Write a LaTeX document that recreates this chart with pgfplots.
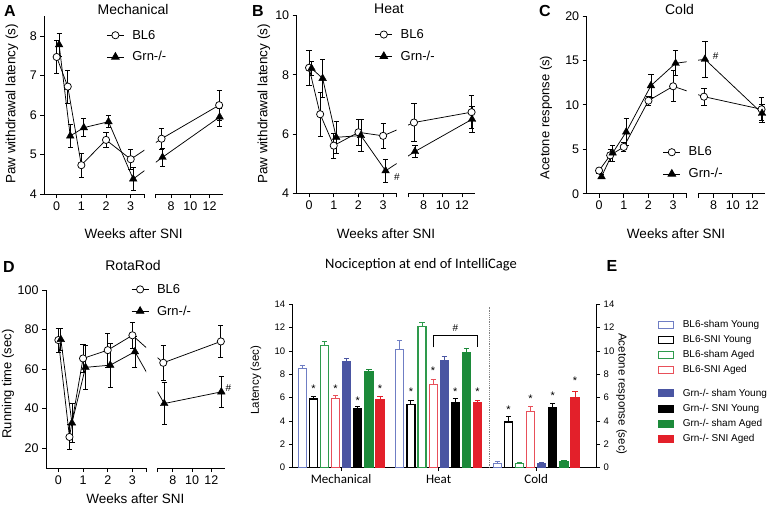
\documentclass[border=0pt]{standalone}
\usepackage{pgfplots}
\pgfplotsset{compat=1.18}
\usepackage{fontspec}
\setmainfont{Liberation Sans}
\newfontfamily\calibri{Carlito}
\definecolor{eblueL}{HTML}{6F7EC4}
\definecolor{eblue}{HTML}{4A55A2}
\definecolor{egreen}{HTML}{1C8A3A}
\definecolor{egreenL}{HTML}{2E9A4C}
\definecolor{ered}{HTML}{E3202A}
\definecolor{eredL}{HTML}{E8505A}
\newcommand{\fs}[1]{\fontsize{#1}{#1}\selectfont}
\pgfplotsset{
  gp/.style={scale only axis, at={(0pt,0pt)}, anchor=south west, axis line style={-,line width=0.8pt},
     tick align=outside, major tick length=4pt,
     every tick/.style={black,line width=0.8pt},
     tick label style={font=\fs{12.5}}, /pgf/number format/assume math mode=true,
     height=177.7pt},
  gpl/.style={gp, axis x line*=bottom, axis y line*=left, width=100pt,
     xmin=-0.5, xmax=3.55, xtick={0,1,2,3,3.55}, xticklabels={0,1,2,3,{}}},
  gpr/.style={gp, axis x line*=bottom, axis y line=none, width=67.2pt,
     xmin=6.4, xmax=13.4, xtick={6.4,8,10,12}, xticklabels={{},8,10,12}},
  ln/.style={black, line width=0.75pt, mark=none, forget plot},
  bm/.style={only marks, mark=*, mark size=3.6pt, mark options={fill=white, draw=black, line width=0.75pt}, forget plot,
     error bars/.cd, y dir=both, y explicit, error bar style={black,line width=0.75pt},
     error mark options={rotate=90, mark size=2.6pt, line width=0.75pt, black}},
  gm/.style={only marks, mark=triangle*, mark size=4.4pt, mark options={fill=black, draw=black}, forget plot,
     error bars/.cd, y dir=both, y explicit, error bar style={black,line width=0.75pt},
     error mark options={rotate=90, mark size=2.6pt, line width=0.75pt, black}},
  bleg/.style={black, line width=0.75pt, mark=*, mark size=3.6pt, mark options={fill=white, draw=black}},
  gleg/.style={black, line width=0.75pt, mark=triangle*, mark size=4.4pt, mark options={fill=black}},
  lgd/.style={legend style={draw=none, fill=none, anchor=north west, at={#1}, font=\fs{13},
     row sep=9pt, inner sep=0pt, nodes={inner sep=1pt},
     /tikz/every odd column/.append style={column sep=7pt}}, legend cell align=left},
  eb/.style 2 args={ybar, bar width=8, bar shift=0pt, draw=#1, fill=#2, line width=1.2pt,
     legend image code/.code={\draw[##1, line width=1pt] (0pt,-3.5pt) rectangle (15pt,3.5pt);},
     error bars/.cd, y dir=plus, y explicit, error bar style={#1, line width=1pt},
     error mark options={rotate=90, mark size=2.6pt, line width=1pt, #1}},
  ee/.style={scale only axis, at={(0pt,0pt)}, anchor=south west, width=304.4pt, height=163.4pt,
     ymin=0, ymax=14, axis line style={-, line width=0.8pt},
     tick align=outside, major tick length=3.5pt, every tick/.style={black, line width=0.8pt},
     ytick={0,2,...,14}, y tick label style={font=\fs{9.5}}, /pgf/number format/assume math mode=true},
}
\begin{document}
\begin{tikzpicture}[x=1pt,y=1pt]
\useasboundingbox (0,0) rectangle (767,507);
% ---------------- Panel A ----------------
\begin{scope}[shift={(44.3pt,313pt)}]
\begin{axis}[gpl, ymin=4, ymax=8.5, ytick={4,5,6,7,8}, lgd={(axis description cs:0.62,0.93)}]
\addplot[ln] coordinates {(0,7.47)(0.45,6.72)(1,4.73)(2,5.37)(3,4.88)(4.249,5.4)};
\addplot[ln] coordinates {(0.1,7.78)(0.55,5.47)(1.1,5.68)(2.1,5.83)(3.1,4.38)(4.288,4.93)};
\addplot[bm] coordinates {(0,7.47)+-(0,0.42) (0.45,6.72)+-(0,0.42) (1,4.73)+-(0,0.3) (2,5.37)+-(0,0.2) (3,4.88)+-(0,0.25)};
\addplot[gm] coordinates {(0.1,7.78)+-(0,0.3) (0.55,5.47)+-(0,0.3) (1.1,5.68)+-(0,0.23) (2.1,5.83)+-(0,0.15) (3.1,4.38)+-(0,0.3)};
\addlegendimage{bleg}\addlegendentry{BL6}
\addlegendimage{gleg}\addlegendentry{Grn-/-}
\end{axis}
\end{scope}
\begin{scope}[shift={(155.8pt,313pt)}]
\begin{axis}[gpr, ymin=4, ymax=8.5]
\addplot[ln] coordinates {(3.787,4.88)(7,5.4)(13,6.25)};
\addplot[ln] coordinates {(4.044,4.38)(7.1,4.93)(13.05,5.95)};
\addplot[bm] coordinates {(7,5.4)+-(0,0.26) (13,6.25)+-(0,0.38)};
\addplot[gm] coordinates {(7.1,4.93)+-(0,0.22) (13.05,5.95)+-(0,0.23)};
\end{axis}
\end{scope}
% ---------------- Panel B ----------------
\begin{scope}[shift={(296.7pt,313.7pt)}]
\begin{axis}[gpl, ymin=4, ymax=10, ytick={4,6,8,10}, lgd={(axis description cs:0.78,0.93)}]
\addplot[ln] coordinates {(0,8.24)(0.45,6.67)(1,5.61)(2,6.06)(3,5.94)(4.249,6.39)};
\addplot[ln] coordinates {(0.1,8.22)(0.55,7.88)(1.1,5.89)(2.1,5.95)(3.1,4.76)(4.288,5.41)};
\addplot[bm] coordinates {(0,8.24)+-(0,0.6) (0.45,6.67)+-(0,0.75) (1,5.61)+-(0,0.43) (2,6.06)+-(0,0.45) (3,5.94)+-(0,0.42)};
\addplot[gm] coordinates {(0.1,8.22)+-(0,0.25) (0.55,7.88)+-(0,0.65) (1.1,5.89)+-(0,0.55) (2.1,5.95)+-(0,0.55) (3.1,4.76)+-(0,0.38)};
\addlegendimage{bleg}\addlegendentry{BL6}
\addlegendimage{gleg}\addlegendentry{Grn-/-}
\end{axis}
\end{scope}
\begin{scope}[shift={(408.2pt,313.7pt)}]
\begin{axis}[gpr, ymin=4, ymax=10]
\addplot[ln] coordinates {(3.787,5.94)(7,6.39)(13,6.74)};
\addplot[ln] coordinates {(4.044,4.76)(7.1,5.41)(13.05,6.5)};
\addplot[bm] coordinates {(7,6.39)+-(0,0.63) (13,6.74)+-(0,0.55)};
\addplot[gm] coordinates {(7.1,5.41)+-(0,0.2) (13.05,6.5)+-(0,0.45)};
\end{axis}
\end{scope}
% ---------------- Panel C ----------------
\begin{scope}[shift={(586.7pt,313.3pt)}]
\begin{axis}[gpl, ymin=0, ymax=20, ytick={0,5,10,15,20}, lgd={(axis description cs:0.76,0.27)}]
\addplot[ln] coordinates {(0,2.6)(0.45,4.32)(1,5.26)(2,10.47)(3,12.09)(4.249,10.92)};
\addplot[ln] coordinates {(0.1,1.92)(0.55,4.58)(1.1,6.95)(2.1,12.16)(3.1,14.68)(4.288,15.13)};
\addplot[bm] coordinates {(0,2.6)+-(0,0.3) (0.45,4.32)+-(0,0.7) (1,5.26)+-(0,0.55) (2,10.47)+-(0,0.5) (3,12.09)+-(0,1.75)};
\addplot[gm] coordinates {(0.1,1.92)+-(0,0.25) (0.55,4.58)+-(0,0.9) (1.1,6.95)+-(0,1.5) (2.1,12.16)+-(0,1.3) (3.1,14.68)+-(0,1.4)};
\addlegendimage{bleg}\addlegendentry{BL6}
\addlegendimage{gleg}\addlegendentry{Grn-/-}
\end{axis}
\end{scope}
\begin{scope}[shift={(698.2pt,313.3pt)}]
\begin{axis}[gpr, ymin=0, ymax=20]
\addplot[ln] coordinates {(3.787,12.09)(7,10.92)(13,9.5)};
\addplot[ln] coordinates {(4.044,14.68)(7.1,15.13)(13.05,9.05)};
\addplot[bm] coordinates {(7,10.92)+-(0,0.95) (13,9.5)+-(0,1.3)};
\addplot[gm] coordinates {(7.1,15.13)+-(0,2) (13.05,9.05)+-(0,1)};
\end{axis}
\end{scope}
% ---------------- Panel D ----------------
\begin{scope}[shift={(46pt,39pt)}]
\begin{axis}[gpl, height=178pt, ymin=10, ymax=100, ytick={20,40,60,80,100}, lgd={(axis description cs:0.85,1.04)}]
\addplot[ln] coordinates {(0,74.7)(0.45,25.7)(1,65.4)(2,69.6)(3,77.1)(4.249,63.2)};
\addplot[ln] coordinates {(0.1,75)(0.55,32.8)(1.1,60.9)(2.1,62)(3.1,68.8)(4.288,42.6)};
\addplot[bm] coordinates {(0,74.7)+-(0,6) (0.45,25.7)+-(0,6.5) (1,65.4)+-(0,7) (2,69.6)+-(0,8.5) (3,77.1)+-(0,6.5)};
\addplot[gm] coordinates {(0.1,75)+-(0,5.5) (0.55,32.8)+-(0,10) (1.1,60.9)+-(0,11) (2.1,62)+-(0,11) (3.1,68.8)+-(0,8)};
\addlegendimage{bleg}\addlegendentry{BL6}
\addlegendimage{gleg}\addlegendentry{Grn-/-}
\end{axis}
\end{scope}
\begin{scope}[shift={(157.5pt,39pt)}]
\begin{axis}[gpr, height=178pt, ymin=10, ymax=100]
\addplot[ln] coordinates {(3.787,77.1)(7,63.2)(13,74)};
\addplot[ln] coordinates {(4.044,68.8)(7.1,42.6)(13.05,48.5)};
\addplot[bm] coordinates {(7,63.2)+-(0,9) (13,74)+-(0,8)};
\addplot[gm] coordinates {(7.1,42.6)+-(0,10.7) (13.05,48.5)+-(0,8)};
\end{axis}
\end{scope}
% ---------------- Panel E ----------------
\begin{scope}[shift={(292.3pt,39.3pt)}]
\begin{axis}[ee, xmin=0, xmax=304.4,
  axis x line*=bottom, axis y line*=left,
  xtick={48.85,146.35,243.85}, xticklabels={Mechanical,Heat,Cold},
  x tick label style={font=\calibri\fs{13}},
  clip=false,
  legend style={draw=none, fill=none, at={(rel axis cs:1.2,0.91)}, anchor=north west, font=\fs{10},
    row sep=4.5pt, inner sep=0pt, nodes={inner sep=1pt}, /tikz/every odd column/.append style={column sep=8pt}},
  legend cell align=left]
\addplot[eb={eblueL}{white}] coordinates {(10,8.52)+-(0,0.25) (107.5,10.14)+-(0,0.78) (205,0.37)+-(0,0.12)};
\addlegendentry{BL6-sham Young}
\addplot[eb={black}{white}] coordinates {(21.1,5.89)+-(0,0.2) (118.6,5.4)+-(0,0.34) (216.1,3.92)+-(0,0.45)};
\addlegendentry{BL6-SNI Young}
\addplot[eb={egreenL}{white}] coordinates {(32.2,10.46)+-(0,0.34) (129.7,12.08)+-(0,0.35) (227.2,0.34)+-(0,0.12)};
\addlegendentry{BL6-sham Aged}
\addplot[eb={eredL}{white}] coordinates {(43.3,5.95)+-(0,0.25) (140.8,7.11)+-(0,0.46) (238.3,4.83)+-(0,0.43)};
\addlegendentry{BL6-SNI Aged}
\addlegendimage{empty legend}\addlegendentry{}
\addplot[eb={eblue}{eblue}] coordinates {(54.4,9.06)+-(0,0.31) (151.9,9.14)+-(0,0.4) (249.4,0.31)+-(0,0.17)};
\addlegendentry{Grn-/- sham Young}
\addplot[eb={black}{black}] coordinates {(65.5,5.03)+-(0,0.2) (163,5.6)+-(0,0.35) (260.5,5.11)+-(0,0.4)};
\addlegendentry{Grn-/- SNI Young}
\addplot[eb={egreen}{egreen}] coordinates {(76.6,8.2)+-(0,0.23) (174.1,9.83)+-(0,0.37) (271.6,0.49)+-(0,0.14)};
\addlegendentry{Grn-/- sham Aged}
\addplot[eb={ered}{ered}] coordinates {(87.7,5.8)+-(0,0.26) (185.2,5.54)+-(0,0.23) (282.7,5.97)+-(0,0.6)};
\addlegendentry{Grn-/- SNI Aged}
\addplot[gray, densely dotted, line width=1.2pt, forget plot] coordinates {(197,0)(197,13.8)};
\addplot[black, line width=0.8pt, forget plot] coordinates {(140.8,10.3)(140.8,11.3)(185.2,11.3)(185.2,10.3)};
\node[font=\fs{10}] at (axis cs:163,11.95) {\#};
\node[font=\fs{11}] at (axis cs:21.1,6.8) {*};
\node[font=\fs{11}] at (axis cs:43.3,6.8) {*};
\node[font=\fs{11}] at (axis cs:65.5,5.75) {*};
\node[font=\fs{11}] at (axis cs:87.7,6.8) {*};
\node[font=\fs{11}] at (axis cs:118.6,6.55) {*};
\node[font=\fs{11}] at (axis cs:140.8,8.3) {*};
\node[font=\fs{11}] at (axis cs:163,6.55) {*};
\node[font=\fs{11}] at (axis cs:185.2,6.55) {*};
\node[font=\fs{11}] at (axis cs:216.1,4.95) {*};
\node[font=\fs{11}] at (axis cs:238.3,5.95) {*};
\node[font=\fs{11}] at (axis cs:260.5,6.2) {*};
\node[font=\fs{11}] at (axis cs:282.7,7.45) {*};
\end{axis}
\end{scope}
\begin{scope}[shift={(292.3pt,39.3pt)}]
\begin{axis}[ee, xmin=0, xmax=1, axis x line=none, axis y line*=right]
\addplot[draw=none, forget plot] coordinates {(0,0)};
\end{axis}
\end{scope}
% ---------------- Texts ----------------
\node[font=\fs{16}\bfseries] at (10,496) {A};
\node[font=\fs{16}\bfseries] at (258,496) {B};
\node[font=\fs{16}\bfseries] at (545,496) {C};
\node[font=\fs{16}\bfseries] at (9,240) {D};
\node[font=\fs{16}\bfseries] at (612,241) {E};
\node[font=\fs{14}] at (133,498) {Mechanical};
\node[font=\fs{14}] at (389,498) {Heat};
\node[font=\fs{14}] at (679.5,498) {Cold};
\node[font=\fs{14}] at (133,241.3) {RotaRod};
\node[font=\calibri\fs{14.5}] at (421,242.7) {Nociception at end of IntelliCage};
\node[font=\fs{13.5}] at (133.6,273) {Weeks after SNI};
\node[font=\fs{13.5}] at (386,273) {Weeks after SNI};
\node[font=\fs{13.5}] at (676,273) {Weeks after SNI};
\node[font=\fs{13.5}] at (135.3,8.5) {Weeks after SNI};
\node[font=\fs{13.5}, rotate=90] at (12,403) {Paw withdrawal latency (s)};
\node[font=\fs{13.5}, rotate=90] at (264,403) {Paw withdrawal latency (s)};
\node[font=\fs{13}, rotate=90] at (546,389.5) {Acetone response (s)};
\node[font=\fs{13}, rotate=90] at (8,123) {Running time (sec)};
\node[font=\fs{11.5}, rotate=90] at (256,127) {Latency (sec)};
\node[font=\fs{11.5}, rotate=-90] at (621.7,113) {Acetone response (sec)};
\node[font=\fs{10}] at (397,330.3) {\#};
\node[font=\fs{10}] at (715.7,451.3) {\#};
\node[font=\fs{10}] at (228.3,118.7) {\#};
\end{tikzpicture}
\end{document}
